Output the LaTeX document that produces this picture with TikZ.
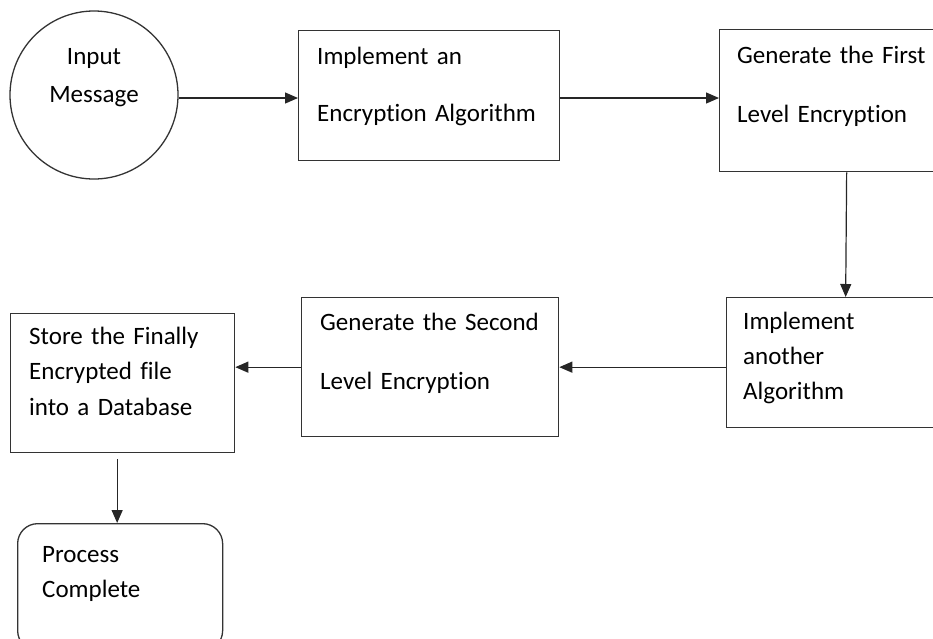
\documentclass[tikz,border=0pt]{standalone}
\usepackage{fontspec}
\setmainfont{Carlito}[Ligatures=NoCommon, WordSpace=0.8]
\usetikzlibrary{arrows.meta,calc}
\tikzset{
	block/.style = {draw=black!80, line width=1.3pt, rectangle, inner sep=0pt, anchor=north west},
	  txt/.style = {inner sep=0pt, anchor=base west, align=left, text width=#1},
	  txt/.default = 230pt,
	  arr/.style = {draw=black!85, line width=1.2pt, -{Triangle[length=13pt,width=11pt]}}
}
\newcommand\linesp[1]{\fontsize{25}{#1}\selectfont}

\begin{document}
\begin{tikzpicture}[x=1pt, y=-1pt]
	\useasboundingbox (0,0) rectangle (933,638);
	\clip (0,0) rectangle (933,638);
	% boxes
	\node[block, circle, anchor=center, minimum size=168pt] (msg) at (94,95) {};
	\node[block, minimum width=261pt, minimum height=130pt] (impl)    at (298,30)  {};
	\node[block, minimum width=254pt, minimum height=142pt] (first)   at (719,29)  {};
	\node[block, minimum width=238pt, minimum height=130pt] (another) at (726,297) {};
	\node[block, minimum width=257pt, minimum height=139pt] (second)  at (301,297) {};
	\node[block, minimum width=224pt, minimum height=139pt] (store)   at (10,313)  {};
	\node[block, minimum width=205pt, minimum height=127pt, rounded corners=20pt] (done) at (17,523) {};
	% texts
	\node[txt=130pt, anchor=base, align=center, font=\linesp{38}] (msgT) at (94,64) {Input\\Message};
	\node[txt, font=\linesp{57}] (implT)    at (317,64)  {Implement an\\Encryption Algorithm};
	\node[txt, font=\linesp{59}] (firstT)   at (737,63)  {Generate the First\\Level Encryption};
	\node[txt, font=\linesp{35}] (anotherT) at (743,329) {Implement\\another\\Algorithm};
	\node[txt, font=\linesp{59}] (secondT)  at (320,330) {Generate the Second\\Level Encryption};
	\node[txt, font=\linesp{35.5}] (storeT) at (29,344)  {Store the Finally\\Encrypted file\\into a Database};
	\node[txt, font=\linesp{35}] (doneT)    at (42,562)  {Process\\Complete};
	% connectors
	\draw[arr] (msg.east |- 0,98) -- (impl.west |- 0,98);
	\draw[arr] (impl.east |- 0,98) -- (first.west |- 0,98);
	\draw[arr] (first.south) -- (another.north);
	\draw[arr] (another.west |- second.east) -- (second.east);
	\draw[arr] (second.west) -- (second.west -| store.east);
	\draw[arr] ($(store.south -| done.north)+(-3,6)$) -- ([xshift=-3pt]done.north);
\end{tikzpicture}
\end{document}
